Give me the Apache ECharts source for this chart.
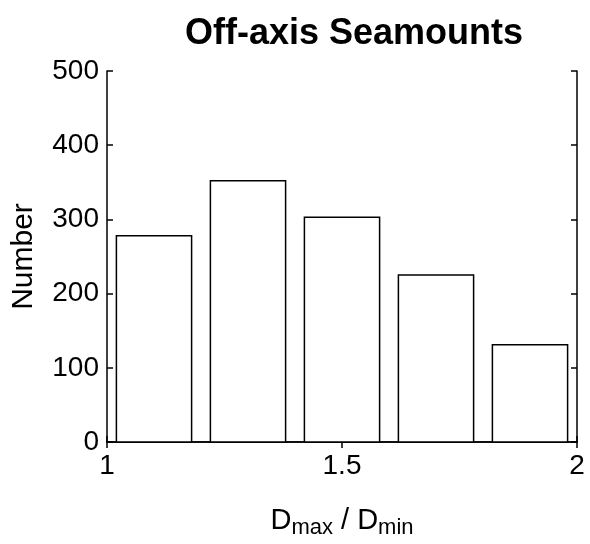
<!DOCTYPE html>
<html>
<head>
<meta charset="utf-8">
<script src="https://cdn.jsdelivr.net/npm/echarts@6/dist/echarts.min.js"></script>
<style>
  html, body { margin: 0; padding: 0; background: #fff; }
  #chart { width: 590px; height: 544px; }
</style>
</head>
<body>
<div id="chart"></div>
<script>
// bin centres of D_max / D_min and counts
const binCenters = [1.1, 1.3, 1.5, 1.7, 1.9];
const counts = [278, 352, 303, 225, 131];
const binWidth = 0.16;
const xTicks = [1, 1.5, 2];
const yTicks = [0, 100, 200, 300, 400, 500];

let myChart = echarts.init(document.getElementById("chart"));
const font = "Liberation Sans, Arial, Helvetica, sans-serif";

function line() {
  return { show: true, lineStyle: { color: "#000", width: 1.5 } };
}
function ticks() {
  // negative length draws the ticks into the plot
  return { show: true, inside: false, length: -6, lineStyle: { color: "#000", width: 1.5 } };
}

let option = {
  animation: false,
  title: {
    text: "Off-axis Seamounts",
    left: 349,
    textAlign: "center",
    top: 11,
    textStyle: { fontFamily: font, fontSize: 36, fontWeight: "bold", color: "#000" }
  },
  grid: { left: 107, right: 13, top: 71, bottom: 101 },
  xAxis: [
    {
      type: "value",
      min: 1,
      max: 2,
      interval: 0.5,
      axisLine: line(),
      axisTick: ticks(),
      splitLine: { show: false },
      axisLabel: {
        fontFamily: font, fontSize: 28, color: "#000", margin: 10,
        formatter: v => (xTicks.indexOf(v) >= 0 ? String(v) : "")
      },
      name: "{d|D}{s|max}{d| / D}{s|min}",
      nameLocation: "middle",
      nameGap: 60,
      nameTextStyle: {
        rich: {
          d: { fontFamily: font, fontSize: 29, color: "#000" },
          s: { fontFamily: font, fontSize: 22, color: "#000", verticalAlign: "bottom", padding: [15, 0, 0, 0] }
        }
      }
    },
    {
      type: "value", position: "top", min: 1, max: 2, interval: 0.5,
      axisLine: line(), axisTick: ticks(), axisLabel: { show: false }, splitLine: { show: false }
    }
  ],
  yAxis: [
    {
      type: "value",
      min: 0,
      max: 500,
      interval: 100,
      axisLine: line(),
      axisTick: ticks(),
      splitLine: { show: false },
      axisLabel: {
        fontFamily: font, fontSize: 28, color: "#000", margin: 8,
        formatter: v => (yTicks.indexOf(v) >= 0 ? String(v) : "")
      },
      name: "Number",
      nameLocation: "middle",
      nameGap: 68,
      nameTextStyle: { fontFamily: font, fontSize: 30, color: "#000" }
    },
    {
      type: "value", position: "right", min: 0, max: 500, interval: 100,
      axisLine: line(), axisTick: ticks(), axisLabel: { show: false }, splitLine: { show: false }
    }
  ],
  series: [
    {
      type: "custom",
      data: binCenters.map((c, i) => [c, counts[i]]),
      renderItem: function (params, api) {
        let x = api.value(0);
        let y = api.value(1);
        let p0 = api.coord([x - binWidth / 2, y]);
        let p1 = api.coord([x + binWidth / 2, 0]);
        return {
          type: "rect",
          shape: { x: p0[0], y: p0[1], width: p1[0] - p0[0], height: p1[1] - p0[1] },
          style: { fill: "#fff", stroke: "#000", lineWidth: 1.5 }
        };
      }
    }
  ]
};
myChart.setOption(option);
</script>
</body>
</html>
